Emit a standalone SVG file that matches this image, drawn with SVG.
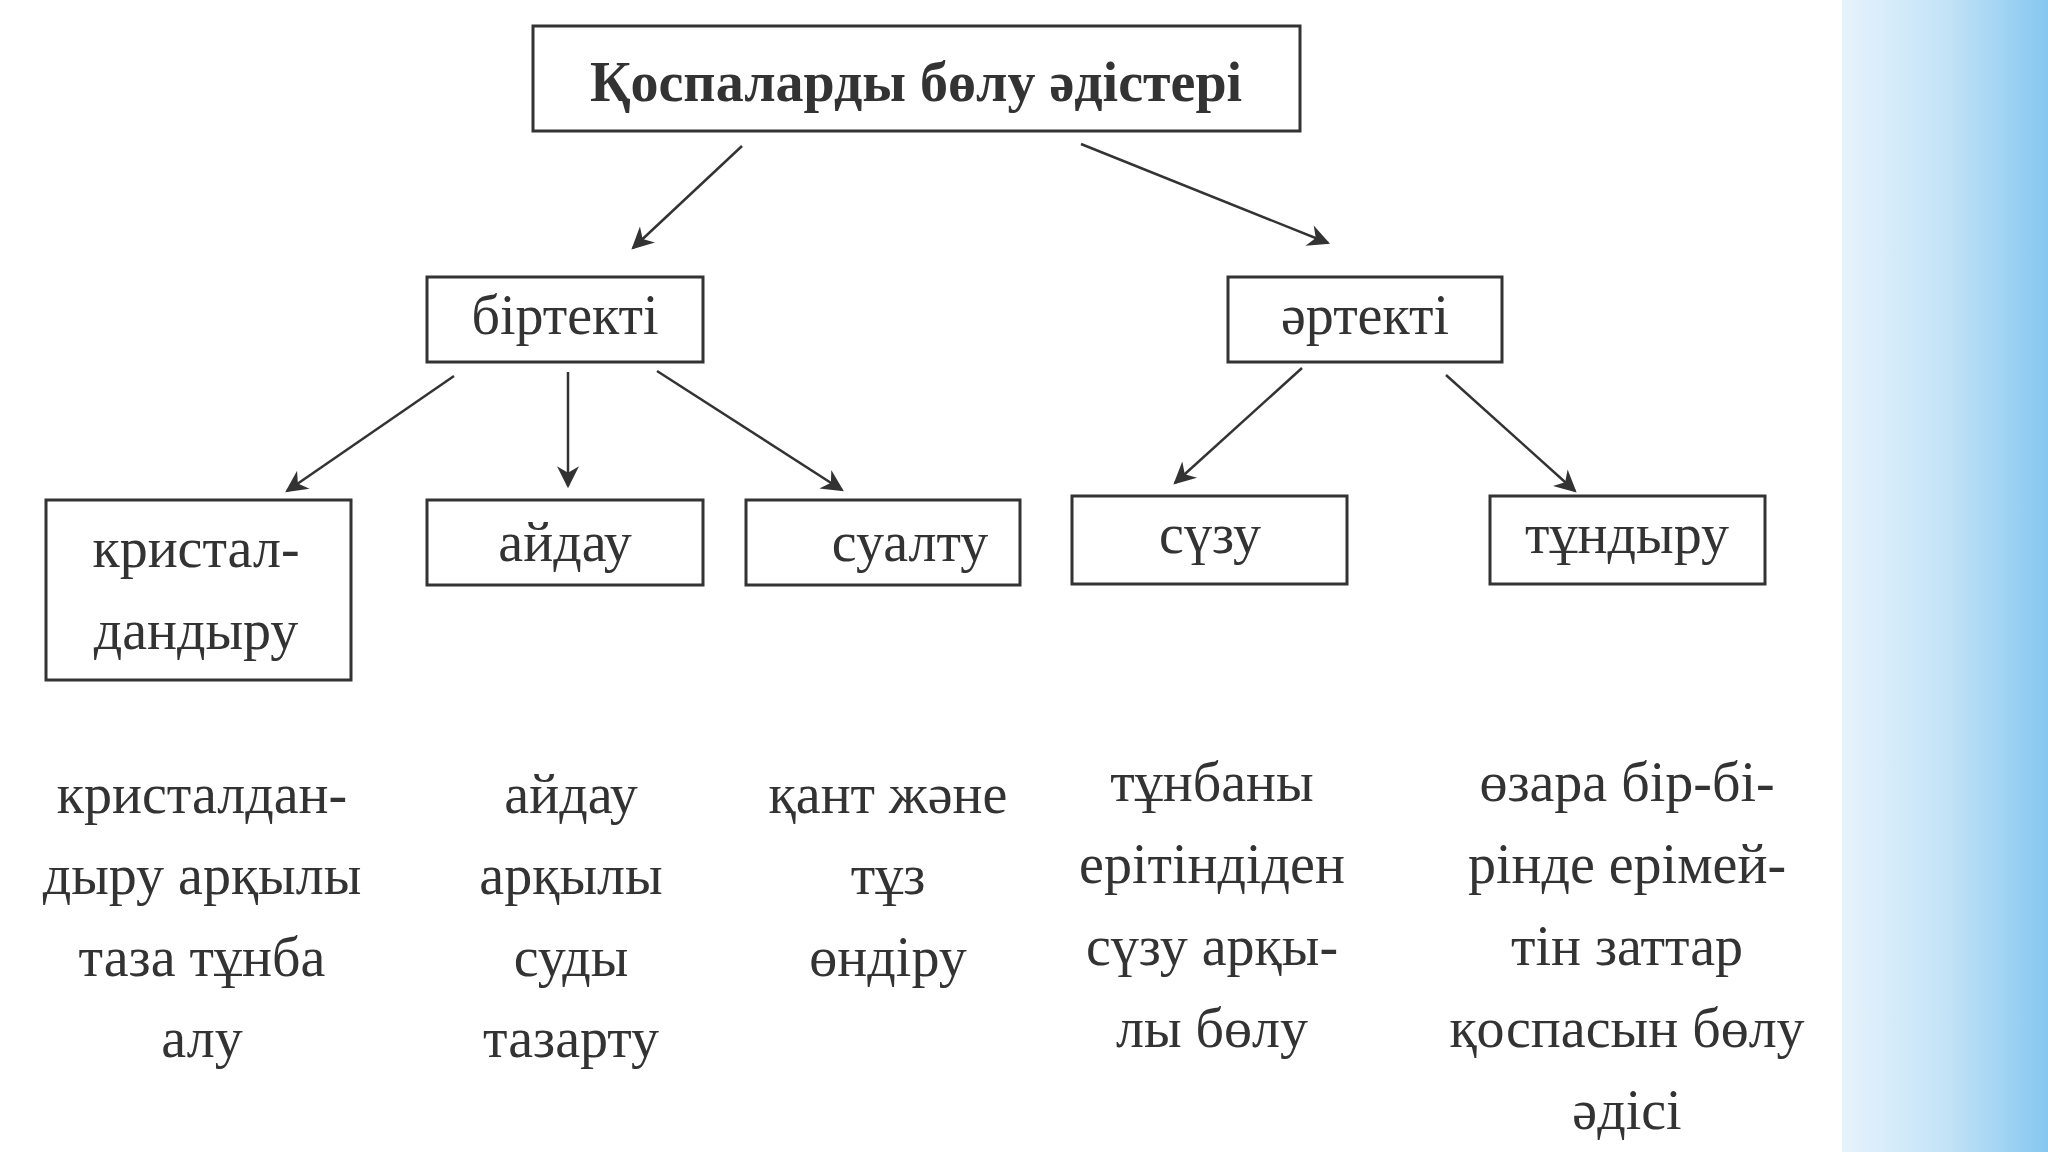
<svg xmlns="http://www.w3.org/2000/svg" width="2048" height="1152" viewBox="0 0 2048 1152">
<defs>
<linearGradient id="bg" x1="0" y1="0" x2="1" y2="0"><stop offset="0" stop-color="#e6f3fc"/><stop offset="0.5" stop-color="#c4e3f7"/><stop offset="1" stop-color="#86c7f0"/></linearGradient>
<marker id="ah" viewBox="0 0 10 10" refX="9" refY="5" markerWidth="26" markerHeight="22" orient="auto" markerUnits="userSpaceOnUse"><path d="M0,0 L10,5 L0,10 L3,5 z" fill="#333"/></marker>
<style>
.b{fill:#fff;stroke:#333;stroke-width:3}
.t{font-family:"Liberation Serif","DejaVu Serif",serif;font-size:56px;fill:#333;text-anchor:middle;dominant-baseline:central}
.c line{stroke:#333;stroke-width:2.5;marker-end:url(#ah)}
</style>
</defs>
<rect width="2048" height="1152" fill="#fff"/>
<rect x="1842" y="0" width="206" height="1152" fill="url(#bg)"/>
<g class="c">
<line x1="742" y1="146" x2="633" y2="248"/>
<line x1="1081" y1="144" x2="1328" y2="243"/>
<line x1="454" y1="376" x2="287" y2="491"/>
<line x1="568" y1="372" x2="568" y2="486"/>
<line x1="657" y1="371" x2="842" y2="490"/>
<line x1="1302" y1="368" x2="1175" y2="483"/>
<line x1="1446" y1="375" x2="1575" y2="491"/>
</g>
<g id="root"><rect class="b" x="533" y="26" width="767" height="105"/><text class="t" x="916" y="82" font-weight="bold" font-size="54">Қоспаларды бөлу әдістері</text></g>
<g id="birtekti"><rect class="b" x="427" y="277" width="276" height="85"/><text class="t" x="565" y="315">біртекті</text></g>
<g id="artekti"><rect class="b" x="1228" y="277" width="274" height="85"/><text class="t" x="1365" y="315">әртекті</text></g>
<g id="krist"><rect class="b" x="46" y="500" width="305" height="180"/><text class="t" x="196" y="548">кристал-</text><text class="t" x="196" y="630">дандыру</text></g>
<g id="aidau"><rect class="b" x="427" y="500" width="276" height="85"/><text class="t" x="565" y="542">айдау</text></g>
<g id="sualtu"><rect class="b" x="746" y="500" width="274" height="85"/><text class="t" x="910" y="542">суалту</text></g>
<g id="suzu"><rect class="b" x="1072" y="496" width="275" height="88"/><text class="t" x="1210" y="534">сүзу</text></g>
<g id="tundyru"><rect class="b" x="1490" y="496" width="275" height="88"/><text class="t" x="1627" y="534">тұндыру</text></g>
<g id="desc">
<text class="t" x="202" y="794">кристалдан-</text><text class="t" x="202" y="875">дыру арқылы</text><text class="t" x="202" y="957">таза тұнба</text><text class="t" x="202" y="1038">алу</text>
<text class="t" x="571" y="794">айдау</text><text class="t" x="571" y="875">арқылы</text><text class="t" x="571" y="957">суды</text><text class="t" x="571" y="1038">тазарту</text>
<text class="t" x="888" y="794">қант және</text><text class="t" x="888" y="875">тұз</text><text class="t" x="888" y="957">өндіру</text>
<text class="t" x="1212" y="782">тұнбаны</text><text class="t" x="1212" y="864">ерітіндіден</text><text class="t" x="1212" y="946">сүзу арқы-</text><text class="t" x="1212" y="1028">лы бөлу</text>
<text class="t" x="1627" y="782">өзара бір-бі-</text><text class="t" x="1627" y="864">рінде ерімей-</text><text class="t" x="1627" y="946">тін заттар</text><text class="t" x="1627" y="1028">қоспасын бөлу</text><text class="t" x="1627" y="1110">әдісі</text>
</g>
</svg>
